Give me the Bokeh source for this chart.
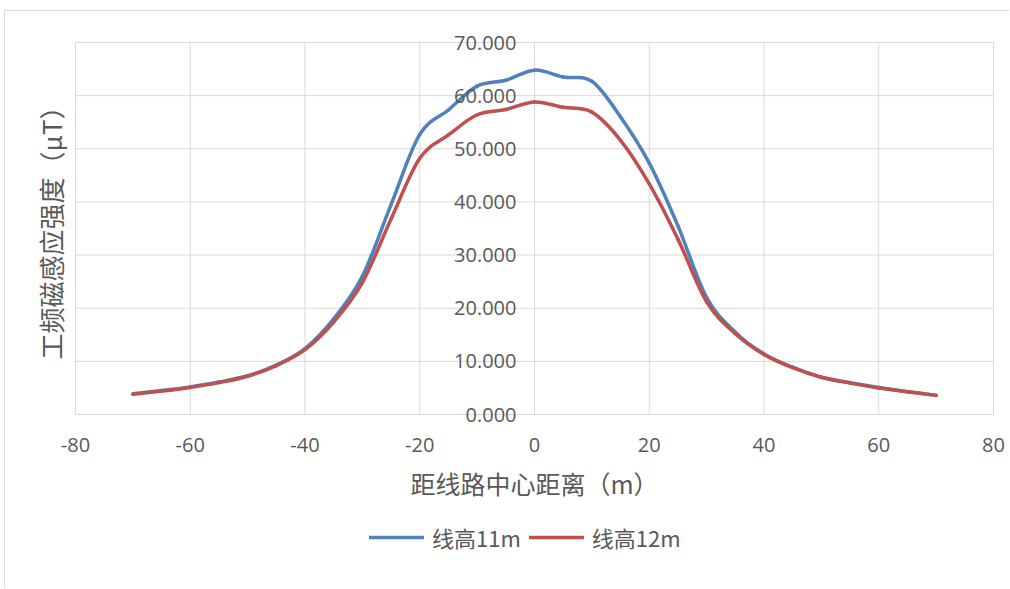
from bokeh.plotting import figure
from bokeh.models import (ColumnDataSource, Legend, LegendItem, Label,
                          FixedTicker, CustomJSTickFormatter)
from bokeh.embed import file_html
from bokeh.resources import INLINE

# Distance from the line centre (m)
distance = [-70, -65, -60, -55, -50, -45, -40, -35, -30, -25, -20, -15, -10, -5,
            0, 5, 10, 15, 20, 25, 30, 35, 40, 45, 50, 55, 60, 65, 70]

# Power-frequency magnetic induction (uT), conductor height 11 m
b_11m = [3.9, 4.5, 5.2, 6.1, 7.3, 9.3, 12.4, 18.0, 26.0, 39.5, 52.7, 57.3, 61.8, 62.9,
         64.8, 63.5, 62.7, 56.0, 47.3, 35.5, 22.0, 15.5, 11.4, 8.9, 7.0, 6.0, 5.1, 4.3, 3.6]

# Power-frequency magnetic induction (uT), conductor height 12 m
b_12m = [3.8, 4.4, 5.1, 6.0, 7.2, 9.2, 12.2, 17.4, 24.8, 36.8, 48.2, 52.6, 56.4, 57.4,
         58.8, 57.8, 56.9, 51.6, 43.4, 33.0, 21.2, 15.2, 11.3, 8.8, 7.0, 5.9, 5.0, 4.3, 3.6]

series_names = ["线高11m", "线高12m"]
series_colors = ["#4F81BD", "#C0504D"]

x_ticks = [-80, -60, -40, -20, 0, 20, 40, 60, 80]
y_ticks = [0, 10, 20, 30, 40, 50, 60, 70]

x_title = "距线路中心距离（m）"
y_title = "工频磁感应强度（μT）"

TEXT = "#595959"
GRID = "#d9d9d9"
CJK = "Noto Sans CJK SC"
NUM = "Open Sans"

# canvas geometry (pixels); the frame covers the whole canvas and the
# gridded 0..70 band sits inside it with room around for the texts
W, H = 1005, 578
PAD_L, PAD_R, PAD_T, PAD_B = 70, 17, 31, 175
x_lo, x_hi = x_ticks[0], x_ticks[-1]
y_lo, y_hi = y_ticks[0], y_ticks[-1]
ux = (x_hi - x_lo) / (W - PAD_L - PAD_R)
uy = (y_hi - y_lo) / (H - PAD_T - PAD_B)


def smooth_segments(xs, ys):
    """Cubic Bezier segments through the points (Catmull-Rom style smoothing)."""
    n = len(xs)
    seg = dict(x0=[], y0=[], x1=[], y1=[], cx0=[], cy0=[], cx1=[], cy1=[])
    for i in range(n - 1):
        p0 = (xs[max(i - 1, 0)], ys[max(i - 1, 0)])
        p1 = (xs[i], ys[i])
        p2 = (xs[i + 1], ys[i + 1])
        p3 = (xs[min(i + 2, n - 1)], ys[min(i + 2, n - 1)])
        seg["x0"].append(p1[0]); seg["y0"].append(p1[1])
        seg["x1"].append(p2[0]); seg["y1"].append(p2[1])
        seg["cx0"].append(p1[0] + (p2[0] - p0[0]) / 6.0)
        seg["cy0"].append(p1[1] + (p2[1] - p0[1]) / 6.0)
        seg["cx1"].append(p2[0] - (p3[0] - p1[0]) / 6.0)
        seg["cy1"].append(p2[1] - (p3[1] - p1[1]) / 6.0)
    return seg


p = figure(width=W, height=H,
           x_range=(x_lo - PAD_L * ux, x_hi + PAD_R * ux),
           y_range=(y_lo - PAD_B * uy, y_hi + PAD_T * uy),
           output_backend="svg", toolbar_location=None, min_border=0,
           styles={"margin-left": "4px", "margin-top": "10px",
                   "border-left": "1px solid #d9d9d9",
                   "border-top": "1px solid #d9d9d9"})
p.background_fill_color = "white"
p.border_fill_color = "white"
p.outline_line_color = None
p.grid.visible = False

# gridlines of the 0..70 band
p.segment(x0=x_ticks, x1=x_ticks, y0=[y_lo] * len(x_ticks), y1=[y_hi] * len(x_ticks),
          line_color=GRID, line_width=1)
p.segment(x0=[x_lo] * len(y_ticks), x1=[x_hi] * len(y_ticks), y0=y_ticks, y1=y_ticks,
          line_color=GRID, line_width=1)

# x axis along y = 0, spanning the -80..80 band so its title centres on it
xa = p.xaxis[0]
xa.fixed_location = 0
xa.bounds = (x_lo, x_hi)
xa.ticker = FixedTicker(ticks=x_ticks)
xa.formatter = CustomJSTickFormatter(code="return tick.toString();")
xa.axis_line_color = None
xa.major_tick_line_color = None
xa.minor_tick_line_color = None
xa.major_label_standoff = 17
xa.major_label_text_font = NUM
xa.major_label_text_font_size = "20px"
xa.major_label_text_color = TEXT
xa.axis_label = x_title
xa.axis_label_text_font = CJK
xa.axis_label_text_font_size = "25px"
xa.axis_label_text_font_style = "normal"
xa.axis_label_text_color = TEXT
xa.axis_label_standoff = 10

# y axis crossing at x = 0
ya = p.yaxis[0]
ya.fixed_location = 0
ya.ticker = FixedTicker(ticks=y_ticks)
ya.formatter = CustomJSTickFormatter(code="return tick.toFixed(3);")
ya.axis_line_color = None
ya.major_tick_line_color = None
ya.minor_tick_line_color = None
ya.major_label_standoff = 12
ya.major_label_text_font = NUM
ya.major_label_text_font_size = "20px"
ya.major_label_text_color = TEXT

# vertical axis title at the left edge
p.add_layout(Label(x=45, y=363, x_units="screen", y_units="screen", text=y_title,
                   angle=90, angle_units="deg", text_align="center",
                   text_baseline="middle", text_font=CJK, text_font_size="26px",
                   text_color=TEXT))

items = []
for name, color, vals in zip(series_names, series_colors, [b_11m, b_12m]):
    src = ColumnDataSource(smooth_segments(distance, vals))
    r = p.bezier(x0="x0", y0="y0", x1="x1", y1="y1", cx0="cx0", cy0="cy0",
                 cx1="cx1", cy1="cy1", source=src, line_color=color,
                 line_width=3.5, line_cap="round")
    items.append(LegendItem(label=name, renderers=[r]))

# legend under the axis title, placed in pixels from the frame's lower-left corner
legend = Legend(items=items, orientation="horizontal", location=(364, 36),
                label_text_font=CJK, label_text_font_size="22px",
                label_text_color=TEXT, glyph_width=55, glyph_height=20,
                label_standoff=8, spacing=8, border_line_color=None,
                background_fill_alpha=0, padding=4, margin=0)
p.add_layout(legend, "center")

open("out.html", "w").write(file_html(p, INLINE))
